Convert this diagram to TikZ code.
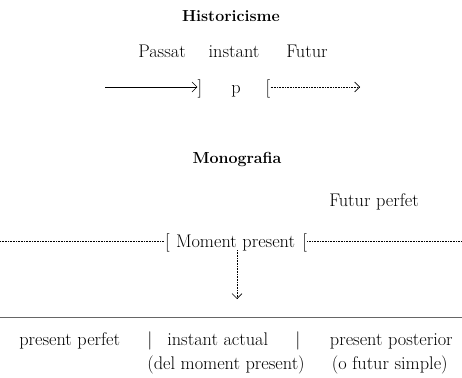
\documentclass[tikz,border=0pt]{standalone}
\usetikzlibrary{arrows.meta}
\begin{document}
\begin{tikzpicture}[x=1pt,y=-1pt,
  txt/.style={inner sep=0pt,font=\fontsize{18.3}{20}\selectfont},
  ttl/.style={inner sep=0pt,font=\fontsize{16}{18}\selectfont\bfseries},
  dots/.style={densely dotted,line width=0.6pt},
  tip/.style={-{Straight Barb[length=5pt,width=10pt]}},
  every path/.style={line width=0.6pt}]
\useasboundingbox (0,0) rectangle (462,377);
% Historicisme
\node[ttl] (hist) at (231,16) {Historicisme};
\node[txt,anchor=base] (passat) at (162,58) {Passat};
\node[txt,anchor=base] (instant) at (234,58) {instant};
\node[txt,anchor=base] (futur) at (307,58) {Futur};
\node[txt,anchor=base] (rb) at (200,93) {]};
\node[txt,anchor=base] (p) at (236,93) {p};
\node[txt,anchor=base] (lb) at (268,93) {[};
\coordinate (s0) at (105,87);
\draw[tip] (s0) -- (rb.west |- s0);
\coordinate (d1) at (360,87);
\draw[tip,dots] (lb.east |- d1) -- (d1);
% Monografia
\node[ttl] (mono) at (237,160) {Monografia};
\node[txt] (fp) at (374,202) {Futur perfet};
\node[txt,anchor=base] (mp) at (236,247) {[\hspace{0.35em}Moment present\hspace{0.4em}[};
\coordinate (l0) at (0,241);
\coordinate (r0) at (462,241);
\draw[dots] (l0) -- (mp.west |- l0);
\draw[dots] (mp.east |- r0) -- (r0);
\coordinate (va) at (237,250);
\coordinate (vb) at (237,299);
\draw[tip,dots] (va) -- (vb);
% baseline
\coordinate (h0) at (0,317);
\coordinate (h1) at (462,317);
\draw[gray!80!black,line width=0.8pt] (h0) -- (h1);
\node[txt,anchor=base west] (pp) at (19,345) {present perfet};
\node[txt,anchor=base] (bar1) at (150,345) {|};
\node[txt,anchor=base west] (ia) at (167,345) {instant actual};
\node[txt,anchor=base] (bar2) at (298,345) {|};
\node[txt,anchor=base east] (ppost) at (453,345) {present posterior};
\node[txt,anchor=base east] (dmp) at (305,369) {(del moment present)};
\node[txt,anchor=base east] (ofs) at (448,369) {(o futur simple)};
\end{tikzpicture}
\end{document}
